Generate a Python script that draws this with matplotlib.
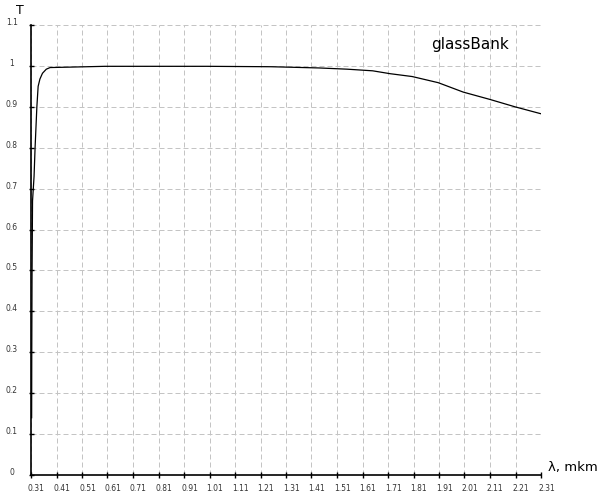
import numpy as np
import matplotlib
matplotlib.use("Agg")
import matplotlib.pyplot as plt
import matplotlib.transforms as mtransforms

# transmission curve
lam = [0.3125, 0.313, 0.314, 0.316, 0.322, 0.326, 0.333, 0.338, 0.345, 0.355,
       0.37, 0.385, 0.46, 0.6, 1.0, 1.25, 1.44, 1.55, 1.65, 1.718, 1.805,
       1.907, 2.005, 2.11, 2.208, 2.31]
T = [0.14, 0.30, 0.48, 0.67, 0.73, 0.80, 0.90, 0.95, 0.968, 0.982,
     0.992, 0.996, 0.997, 0.999, 0.999, 0.998, 0.995, 0.992, 0.988, 0.981, 0.974,
     0.959, 0.936, 0.918, 0.900, 0.883]

xticks = [0.31, 0.41, 0.51, 0.61, 0.71, 0.81, 0.91, 1.01, 1.11, 1.21, 1.31,
          1.41, 1.51, 1.61, 1.71, 1.81, 1.91, 2.01, 2.11, 2.21, 2.31]
xlabels = ['%.2f' % v for v in xticks]
yticks = [0, 0.1, 0.2, 0.3, 0.4, 0.5, 0.6, 0.7, 0.8, 0.9, 1, 1.1]
ylabels = ['0', '0.1', '0.2', '0.3', '0.4', '0.5', '0.6', '0.7', '0.8', '0.9', '1', '1.1']

fig = plt.figure(figsize=(6, 5), dpi=100)
ax = fig.add_axes([31/600, 0.05, 510/600, 0.9])

ax.plot(lam, T, color='black', lw=0.9)

ax.set_xlim(0.31, 2.31)
ax.set_ylim(0, 1.1)
ax.set_xticks(xticks, xlabels)
ax.set_yticks(yticks, ylabels)

ax.grid(True, color='#c4c4c4', lw=0.72, dashes=(5, 3))
ax.set_axisbelow(True)
for s in ['top', 'right']:
    ax.spines[s].set_visible(False)
for s in ['left', 'bottom']:
    ax.spines[s].set_linewidth(1.2)

ax.tick_params(axis='x', direction='inout', length=4.3, width=1, labelsize=5.5,
               labelcolor='#333333', pad=4)
ax.tick_params(axis='y', direction='inout', length=3.6, width=1, labelsize=5.5,
               labelcolor='#333333', pad=12)
# labels start right at the tick, nudge them a bit left
shift = mtransforms.ScaledTranslation(-3/100, 0, fig.dpi_scale_trans)
for lb in ax.get_xticklabels():
    lb.set_ha('left')
    lb.set_transform(lb.get_transform() + shift)
for lb in ax.get_yticklabels():
    lb.set_ha('center')
    lb.set_va('baseline')

ax.text(0.861, 0.956, 'glassBank', transform=ax.transAxes, ha='center', va='center', fontsize=11)
fig.text(20/600, 0.98, 'T', ha='center', va='center', fontsize=9)
fig.text(548/600, 1 - 468/500, 'λ, mkm', ha='left', va='center', fontsize=9.5)

fig.savefig('out.png', dpi=100)
